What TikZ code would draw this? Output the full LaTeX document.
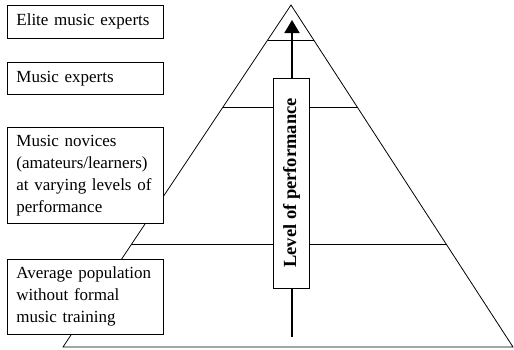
\documentclass[tikz,border=0pt]{standalone}
\usepackage{fontspec}
\setmainfont{Liberation Serif}
\usetikzlibrary{calc,arrows.meta}
\begin{document}
\begin{tikzpicture}[x=1pt,y=-1pt,
  thinline/.style={line width=0.8pt},
  levelbox/.style={draw,fill=white,line width=0.8pt,anchor=north west,
    inner xsep=9pt,inner ysep=0pt,align=left,text width=138pt,
    font=\fontsize{17}{22}\selectfont},
  axisbox/.style={draw,fill=white,line width=0.8pt,minimum width=36pt,
    minimum height=210pt,inner sep=0pt,
    font=\fontsize{18.5}{20}\selectfont\bfseries},
  axisarrow/.style={line width=1.6pt,-{Triangle[length=13pt,width=15pt]}}]
\useasboundingbox (0,0) rectangle (514,349);
% pyramid
\coordinate (apex) at (291,5);
\coordinate (bl) at (63,347);
\coordinate (br) at (513,347);
\draw[thinline] (bl) -- (apex) -- (br) -- cycle;
% tier lines
\foreach \yy/\nm in {40/a,107/b,244/c}{
  \pgfmathsetmacro{\t}{(\yy-5)/342}
  \draw[thinline] ($(apex)!\t!(bl)$) -- ($(apex)!\t!(br)$);
}
% axis arrow
\coordinate (arrbot) at (292,337);
\coordinate (arrtop) at (292,20);
\draw[axisarrow] (arrbot) -- (arrtop);
\node[axisbox] (axis) at (291.5,183) {\rotatebox{90}{Level of performance}};
% left boxes
\node[levelbox,minimum height=33pt] (elite) at (7,5) {Elite music experts};
\node[levelbox,minimum height=32pt] (experts) at (7,62) {Music experts};
\node[levelbox,minimum height=96pt] (novices) at (7,127) {Music novices\\(amateurs/learners)\\at varying levels of\\performance};
\node[levelbox,minimum height=75pt] (average) at (7,259) {Average population\\without formal\\music training};
\end{tikzpicture}
\end{document}
